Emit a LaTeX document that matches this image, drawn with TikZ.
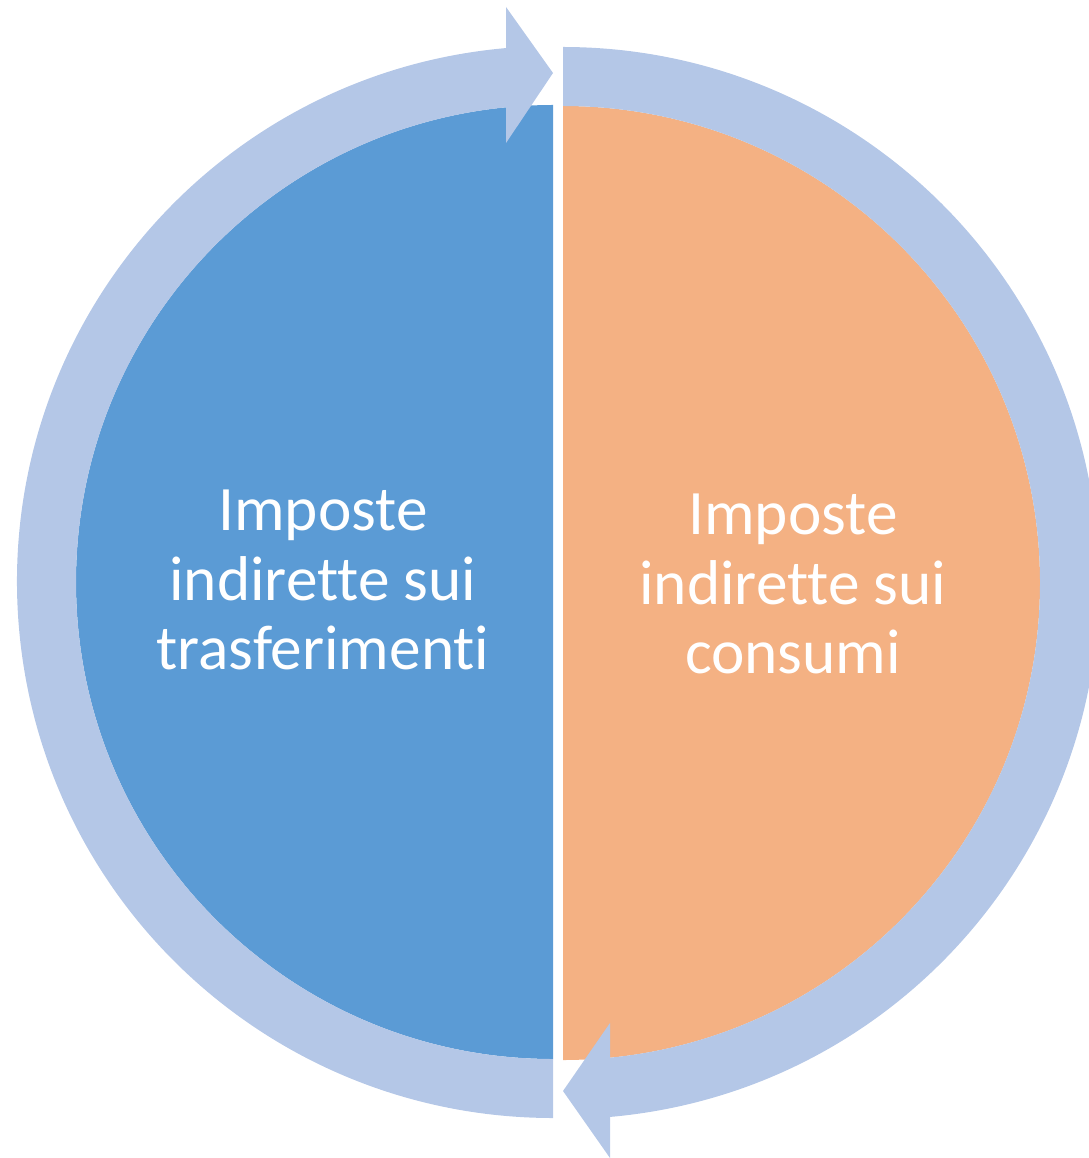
\documentclass[tikz,border=0pt]{standalone}
\usepackage{fontspec}
\setmainfont[Ligatures=NoCommon]{Carlito}
\definecolor{halfblue}{HTML}{5B9BD5}
\definecolor{halforange}{HTML}{F4B183}
\definecolor{ringblue}{HTML}{B4C7E7}
\begin{document}
\begin{tikzpicture}[x=0.01cm, y=-0.01cm,
    ring/.style={fill=ringblue},
    taxtext/.style={text=white, align=center, inner sep=0pt,
      font=\fontsize{18}{19.8}\selectfont}]
  \useasboundingbox (0,0) rectangle (1089,1158);
  \clip (0,0) rectangle (1089,1158);
  % the two halves
  \fill[halfblue] (553,105) arc[start angle=270, end angle=90, radius=477] -- cycle;
  \fill[halforange] (563,106) arc[start angle=-90, end angle=90, radius=477] -- cycle;
  % left arrow, up to the top
  \begin{scope}[shift={(553,582)}]
    \fill[ring] (90:477) arc[start angle=90, end angle=265, radius=477]
      -- (265:536) arc[start angle=265, end angle=90, radius=536] -- cycle;
  \end{scope}
  \fill[ring] (506,7) -- (553,73) -- (506,143) -- cycle;
  % right arrow, down to the bottom
  \begin{scope}[shift={(563,583)}]
    \fill[ring] (-90:477) arc[start angle=-90, end angle=85, radius=477]
      -- (85:536) arc[start angle=85, end angle=-90, radius=536] -- cycle;
  \end{scope}
  \fill[ring] (610,1023) -- (563,1091) -- (610,1158) -- cycle;
  % texts
  \node[taxtext] (lefttext) at (323,580) {Imposte\\indirette sui\\trasferimenti};
  \node[taxtext] (righttext) at (793,584) {Imposte\\indirette sui\\consumi};
\end{tikzpicture}
\end{document}
